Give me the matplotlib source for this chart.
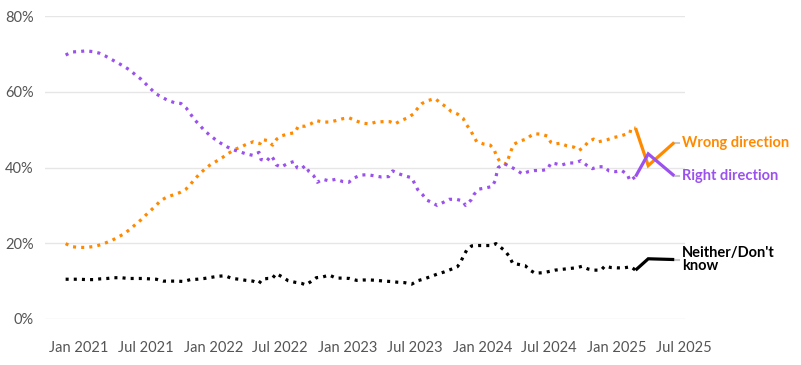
import numpy as np
import pandas as pd
import matplotlib
matplotlib.use("Agg")
import matplotlib.pyplot as plt

# ---- data: x values are months since Jan 2021 ----
right_m = [-1.19, -0.65, 0, 0.62, 1.22, 1.81, 2.38, 2.92, 3.48, 4.01, 4.55, 5.02, 5.50, 5.95, 6.39, 6.84,
           7.38, 7.94, 8.54, 9.10, 9.57, 9.93, 10.29, 10.73, 11.15, 11.60, 12.07, 12.60, 13.18, 13.74, 14.30,
           14.90, 15.52, 16.06, 16.24, 16.75, 17.13, 17.34, 17.60, 18.02, 18.58, 19.18, 19.47, 19.83, 20.19,
           20.52, 20.94, 21.26, 21.74, 22.27, 22.93, 23.52, 24.06, 24.59, 25.13, 25.75, 26.34, 26.97, 27.63,
           27.98, 28.48, 29.05, 29.68, 29.95, 30.21, 30.66, 31.02, 31.40, 31.94, 32.50, 33.03, 33.66, 34.21,
           34.48, 34.97, 35.24, 35.68, 36.28, 36.87, 37.14, 37.26, 37.40, 37.94, 38.51, 39.05, 39.55, 40.08,
           40.65, 41.24, 41.78, 42.11, 42.52, 43.02, 43.62, 44.22, 44.78, 45.29, 45.79, 46.34, 46.86, 47.28,
           47.88, 48.41, 48.91, 49.15]
right_v = [69.7, 70.5, 70.6, 70.8, 70.6, 70.2, 69.4, 68.5, 67.6, 66.7, 65.7, 64.5, 63.4, 62.1, 60.8, 59.5,
           58.6, 57.7, 57.1, 56.9, 55.7, 54.2, 52.7, 51.3, 49.9, 48.7, 47.6, 46.5, 45.5, 44.7, 44.2,
           43.6, 43.2, 44.0, 42.1, 41.7, 43.1, 42.3, 40.7, 40.1, 41.0, 41.6, 39.9, 39.6, 40.5,
           38.9, 37.8, 36.1, 36.9, 36.5, 36.9, 36.3, 36.1, 37.3, 38.0, 38.1, 37.8, 37.5, 37.6,
           39.1, 38.4, 37.8, 37.3, 35.7, 34.2, 32.8, 31.4, 30.9, 30.0, 30.8, 31.6, 31.6, 31.2,
           30.0, 31.4, 32.9, 34.3, 34.6, 35.0, 36.6, 38.4, 40.0, 41.0, 40.2, 39.3, 38.3, 38.9,
           39.2, 39.2, 39.5, 41.2, 41.0, 40.6, 41.2, 41.2, 41.8, 40.6, 39.7, 40.2, 40.2, 39.1,
           38.9, 39.2, 38.2, 36.5]

wrong_m = [-1.19, -0.65, 0, 0.62, 1.22, 1.81, 2.38, 2.97, 3.54, 4.08, 4.55, 5.02, 5.50, 5.95, 6.42, 6.84,
           7.31, 7.85, 8.45, 9.01, 9.55, 9.96, 10.35, 10.79, 11.24, 11.75, 12.28, 12.78, 13.32, 13.85, 14.42,
           14.99, 15.55, 16.15, 16.35, 16.83, 17.28, 17.64, 18.11, 18.71, 19.27, 19.56, 20.16, 20.67, 21.17,
           21.74, 22.33, 22.95, 23.55, 24.11, 24.71, 25.31, 25.90, 26.49, 27.12, 27.74, 28.19, 28.72, 29.32,
           29.82, 30.18, 30.60, 31.16, 31.76, 32.23, 32.74, 33.21, 33.78, 34.26, 34.52, 34.91, 35.48, 36.10,
           36.69, 37.05, 37.26, 37.56, 38.12, 38.33, 38.54, 38.78, 39.34, 39.90, 40.26, 40.65, 41.24, 41.78,
           42.08, 42.44, 42.94, 43.53, 44.13, 44.60, 45.05, 45.43, 45.91, 46.36, 47.10, 47.64, 48.17, 48.71,
           49.15, 49.24]
wrong_v = [19.9, 19.1, 18.9, 18.9, 19.1, 19.5, 20.1, 20.8, 21.7, 22.6, 23.7, 24.9, 26.1, 27.4, 28.7, 29.9,
           31.3, 32.2, 32.8, 33.4, 34.3, 35.6, 37.0, 38.4, 39.6, 40.8, 41.7, 42.6, 43.7, 44.7, 45.4,
           46.2, 46.8, 46.3, 47.4, 47.1, 45.9, 47.5, 48.4, 48.9, 49.2, 50.9, 50.9, 51.5, 52.4,
           52.0, 52.0, 52.4, 52.9, 53.1, 52.3, 51.7, 51.5, 52.0, 52.1, 52.1, 51.5, 52.4, 53.1,
           54.1, 55.5, 56.9, 57.7, 58.2, 57.1, 56.0, 54.8, 54.1, 53.0, 51.5, 49.9, 46.8, 46.2,
           45.9, 44.6, 42.9, 41.5, 40.9, 42.6, 44.4, 46.1, 47.0, 47.5, 48.3, 48.9, 48.8, 48.3,
           46.7, 46.2, 46.4, 45.7, 45.4, 44.5, 45.4, 46.8, 47.5, 46.8, 47.3, 47.9, 48.2, 48.7,
           49.1, 50.4]

neither_m = [-1.19, -0.60, 0.03, 0.69, 1.31, 1.90, 2.52, 3.15, 3.77, 4.40, 5.02, 5.65, 6.27, 6.90, 7.52,
             8.14, 8.77, 9.34, 9.93, 10.55, 11.18, 11.80, 12.43, 13.05, 13.65, 14.27, 14.90, 15.52, 16.06,
             16.35, 16.83, 17.24, 17.60, 18.14, 18.67, 19.27, 19.87, 20.22, 20.70, 21.17, 21.74, 22.33,
             22.93, 23.52, 24.15, 24.77, 25.36, 25.99, 26.56, 27.21, 27.81, 28.46, 29.05, 29.68, 30.21,
             30.80, 31.37, 32.00, 32.56, 33.18, 33.75, 33.99, 34.28, 34.59, 35.03, 35.62, 36.22, 36.82,
             37.20, 37.62, 38.00, 38.39, 38.69, 39.25, 39.79, 40.29, 40.68, 41.28, 41.87, 42.46, 43.06,
             43.65, 44.31, 44.87, 45.41, 45.97, 46.57, 46.92, 47.43, 48.02, 48.62, 49.22]
neither_v = [10.5, 10.5, 10.5, 10.4, 10.4, 10.6, 10.7, 10.9, 10.9, 10.7, 10.7, 10.7, 10.6, 10.5, 10.0,
             10.0, 10.0, 9.9, 10.4, 10.5, 10.7, 11.0, 11.3, 11.4, 10.7, 10.5, 10.2, 10.0, 9.4,
             10.5, 10.7, 10.7, 12.0, 11.1, 10.1, 9.7, 9.4, 9.0, 9.9, 10.9, 11.1, 11.6,
             10.8, 10.8, 10.7, 10.2, 10.3, 10.3, 10.2, 10.0, 9.9, 9.7, 9.6, 9.2, 10.1,
             10.6, 11.2, 11.9, 12.4, 13.1, 13.8, 14.7, 16.5, 18.2, 19.3, 19.4, 19.4, 19.4,
             19.9, 18.9, 18.0, 16.5, 14.7, 14.4, 14.1, 12.8, 12.1, 12.2, 12.5, 12.9, 13.1,
             13.3, 13.5, 13.9, 13.2, 12.9, 12.9, 14.0, 13.6, 13.5, 13.5, 13.8]

# most recent readings (drawn solid)
recent_m = [49.65, 50.78, 53.1]
recent_wrong = [50.4, 40.5, 46.6]
recent_right = [37.6, 43.6, 37.8]
recent_neither = [12.9, 15.9, 15.7]

series_names = ["Wrong direction", "Right direction", "Neither/Don't\nknow"]
series_colors = ["#ff8a00", "#9b51ee", "#000000"]
y_ticks = [0, 20, 40, 60, 80]
y_labels = ["0%", "20%", "40%", "60%", "80%"]
x_tick_dates = ["2021-01-01", "2021-07-01", "2022-01-01", "2022-07-01", "2023-01-01",
                "2023-07-01", "2024-01-01", "2024-07-01", "2025-01-01", "2025-07-01"]
x_tick_labels = ["Jan 2021", "Jul 2021", "Jan 2022", "Jul 2022", "Jan 2023",
                 "Jul 2023", "Jan 2024", "Jul 2024", "Jan 2025", "Jul 2025"]


def to_dates(months):
    return pd.Timestamp("2021-01-01") + pd.to_timedelta(np.asarray(months, dtype=float) * 30.437, unit="D")


fig = plt.figure(figsize=(8.01, 3.65), dpi=100)
ax = fig.add_axes([45 / 801, 1 - 319 / 365, 640 / 801, 303 / 365])

hist = [(wrong_m, wrong_v, recent_wrong), (right_m, right_v, recent_right), (neither_m, neither_v, recent_neither)]
for (hm, hv, rv), name, col in zip(hist, series_names, series_colors):
    dm = list(hm) + [recent_m[0]]
    dv = list(hv) + [rv[0]]
    ax.plot(to_dates(dm), dv, color=col, lw=2.3, linestyle=(0, (0.95, 1.6)),
            dash_capstyle="butt", clip_on=False, zorder=3)
    ax.plot(to_dates(recent_m), rv, color=col, lw=2.3, solid_joinstyle="miter",
            solid_capstyle="butt", clip_on=False, zorder=4)
    end_m = recent_m[-1]
    ax.plot(to_dates([end_m, end_m + 0.4]), [rv[-1], rv[-1]], color="#c8c8c8", lw=1.5,
            clip_on=False, zorder=2)
    ax.text(to_dates([end_m + 0.68])[0], rv[-1], name, color=col, fontsize=10.5,
            fontweight="bold", family=["Lato", "DejaVu Sans"], ha="left", va="center",
            linespacing=0.88, clip_on=False)

ax.set_ylim(0, 80)
ax.set_xlim(to_dates([-3.03])[0], to_dates([54.06])[0])
ax.set_yticks(y_ticks)
ax.set_yticklabels(y_labels)
ax.set_xticks(pd.to_datetime(x_tick_dates))
ax.set_xticklabels(x_tick_labels)
ax.tick_params(axis="both", length=0, labelcolor="#555555", labelsize=10.5)
ax.tick_params(axis="y", pad=8)
ax.tick_params(axis="x", pad=16)
for lab in ax.get_xticklabels() + ax.get_yticklabels():
    lab.set_family(["Lato", "DejaVu Sans"])
ax.grid(axis="y", color="#e6e6e6", lw=1)
ax.set_axisbelow(True)
for s in ax.spines.values():
    s.set_visible(False)

fig.savefig("out.png", dpi=100, facecolor="white")
